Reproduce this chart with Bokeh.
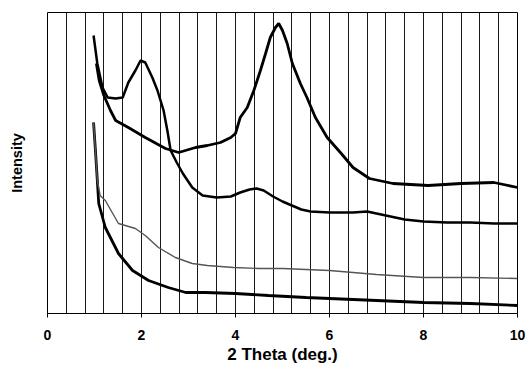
import numpy as np
from bokeh.plotting import figure
from bokeh.models import FixedTicker, Range1d
from bokeh.embed import file_html
from bokeh.resources import INLINE

# Series (2 Theta in degrees, intensity in arbitrary units)
theta_a = [0.98, 1.06, 1.17, 1.28, 1.45, 1.6, 1.72, 1.87, 1.98, 2.08, 2.23, 2.34, 2.47, 2.55,
           2.62, 2.75, 2.88, 3.08, 3.3, 3.6, 3.9, 4.1, 4.3, 4.45, 4.6, 4.8, 5.0, 5.2, 5.4, 5.6,
           6.0, 6.5, 6.8, 7.0, 7.3, 7.6, 8.0, 8.5, 9.0, 9.5, 10.0]
int_a = [278, 250, 226, 216, 215, 216, 231, 243, 253, 251, 236, 223, 203, 183,
         163, 151, 140, 126, 118, 116, 117, 121, 124, 125, 123, 117, 112, 108, 104, 102,
         101, 101, 102, 100, 97, 94, 92, 91, 91, 90, 90]

theta_b = [1.04, 1.1, 1.2, 1.34, 1.45, 1.72, 2.08, 2.51, 2.79, 3.15, 3.4, 3.68, 3.9, 4.0,
           4.1, 4.25, 4.39, 4.53, 4.64, 4.74, 4.85, 4.92, 5.0, 5.1, 5.21, 5.38, 5.52, 5.7,
           5.95, 6.25, 6.5, 6.85, 7.35, 8.1, 8.8, 9.5, 10.0]
int_b = [250, 233, 218, 203, 193, 186, 176, 165, 161, 166, 168, 171, 176, 180,
         196, 206, 223, 243, 260, 276, 286, 290, 283, 270, 250, 230, 216, 196,
         176, 160, 146, 135, 130, 128, 130, 131, 126]

theta_c = [0.98, 1.02, 1.06, 1.12, 1.23, 1.51, 1.87, 2.08, 2.36, 2.72, 3.08, 3.4, 3.96,
           4.5, 5.0, 6.0, 7.0, 8.0, 9.0, 10.0]
int_c = [191, 163, 133, 118, 113, 90, 85, 78, 66, 56, 50, 48, 46,
         45, 45, 43, 39, 36, 36, 35]

theta_d = [0.98, 1.02, 1.06, 1.09, 1.23, 1.51, 1.81, 2.15, 2.57, 2.94, 3.36, 4.0, 4.7,
           5.5, 6.0, 7.0, 8.0, 9.0, 10.0]
int_d = [191, 163, 133, 110, 86, 60, 43, 33, 26, 21, 21, 20, 18,
         16, 15, 13, 11, 10, 8]

x_ticks = [0, 2, 4, 6, 8, 10]

p = figure(frame_width=470, frame_height=301, output_backend="svg", toolbar_location=None,
           x_range=Range1d(0, 10), y_range=Range1d(0, 301),
           min_border_left=47, min_border_right=11, min_border_top=12, min_border_bottom=59)
p.background_fill_color = "white"
p.border_fill_color = "white"
p.outline_line_color = "black"
p.outline_line_width = 1

p.xgrid.ticker = FixedTicker(ticks=list(np.round(np.arange(0, 10.01, 0.4), 2)))
p.xgrid.grid_line_color = "#1a1a1a"
p.xgrid.grid_line_width = 1
p.ygrid.grid_line_color = None

p.xaxis.ticker = FixedTicker(ticks=x_ticks)
p.xaxis.axis_line_color = "black"
p.xaxis.major_tick_line_color = "black"
p.xaxis.major_tick_out = 4
p.xaxis.major_tick_in = 0
p.xaxis.minor_tick_line_color = None
p.xaxis.major_label_text_font = "Liberation Sans"
p.xaxis.major_label_text_font_style = "bold"
p.xaxis.major_label_text_font_size = "14px"
p.xaxis.major_label_text_color = "black"
p.xaxis.major_label_standoff = 12
p.xaxis.axis_label = "2 Theta (deg.)"
p.xaxis.axis_label_text_font = "Liberation Sans"
p.xaxis.axis_label_text_font_style = "bold"
p.xaxis.axis_label_text_font_size = "17px"
p.xaxis.axis_label_text_color = "black"
p.xaxis.axis_label_standoff = 2

p.yaxis.ticker = FixedTicker(ticks=[])
p.yaxis.axis_label = "Intensity"
p.yaxis.axis_label_text_font = "Liberation Sans"
p.yaxis.axis_label_text_font_style = "bold"
p.yaxis.axis_label_text_font_size = "14.5px"
p.yaxis.axis_label_text_color = "black"
p.yaxis.axis_label_standoff = 23
p.yaxis.major_label_standoff = 0
p.yaxis.major_tick_line_color = None
p.yaxis.minor_tick_line_color = None
p.yaxis.axis_line_color = None

p.line(theta_d, int_d, line_color="black", line_width=2.8)
p.line(theta_c, int_c, line_color="#555555", line_width=1.4)
p.line(theta_a, int_a, line_color="black", line_width=2.5)
p.line(theta_b, int_b, line_color="black", line_width=2.8)

open("out.html", "w").write(file_html(p, INLINE))
